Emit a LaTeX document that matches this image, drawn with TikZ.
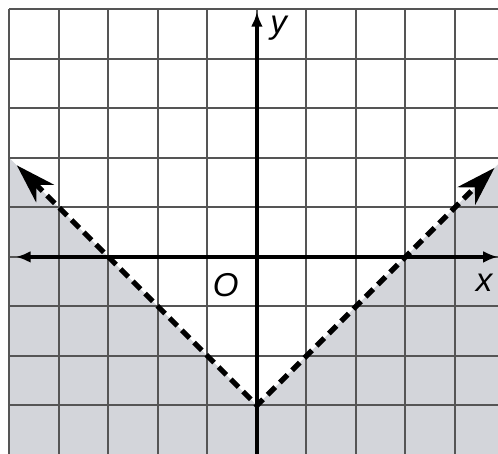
\documentclass[tikz,border=0pt]{standalone}
\usepackage{fontspec}
\setmainfont{Liberation Sans}
\usetikzlibrary{arrows.meta}
\definecolor{shadegray}{RGB}{211,213,218}
\definecolor{gridgray}{RGB}{85,85,85}

\begin{document}
\begin{tikzpicture}[line join=round, x=1cm, y=1cm,
    lbl/.style={font=\fontsize{19}{22}\selectfont\itshape, inner sep=0pt},
    axis/.style={line width=2pt, black},
    bound/.style={line width=3pt, black, dash pattern=on 0.22cm off 0.13cm}]
  \useasboundingbox (-5.19,-3.98) rectangle (4.87,5.19);
  % Shaded region below the V.
  \fill[shadegray] (-5,2) -- (0,-3) -- (4.87,1.87) -- (4.87,-3.98) -- (-5,-3.98) -- cycle;
  % Grid.
  \draw[gridgray, line width=1.1pt] (-5,-3.98) grid (4.87,5);
  % Axes.
  \draw[axis, {Latex[length=3mm,width=2.4mm]}-{Latex[length=3mm,width=2.4mm]}] (-4.87,0) -- (4.87,0);
  \draw[axis, -{Latex[length=3mm,width=2.4mm]}] (0,-3.98) -- (0,4.95);
  % Boundary line.
  \coordinate (vertex) at (0,-3);
  \coordinate (lefttip) at (-4.85,1.85);
  \coordinate (righttip) at (4.8,1.8);
  \draw[bound, {Stealth[length=8mm,width=5mm,inset=2.4mm]}-{Stealth[length=8mm,width=5mm,inset=2.4mm]}]
    (lefttip) -- (vertex) -- (righttip);
  % Labels.
  \node[lbl] (ylabel) at (0.44,4.63) {y};
  \node[lbl] (origin) at (-0.63,-0.57) {O};
  \node[lbl] (xlabel) at (4.59,-0.53) {x};
\end{tikzpicture}
\end{document}
